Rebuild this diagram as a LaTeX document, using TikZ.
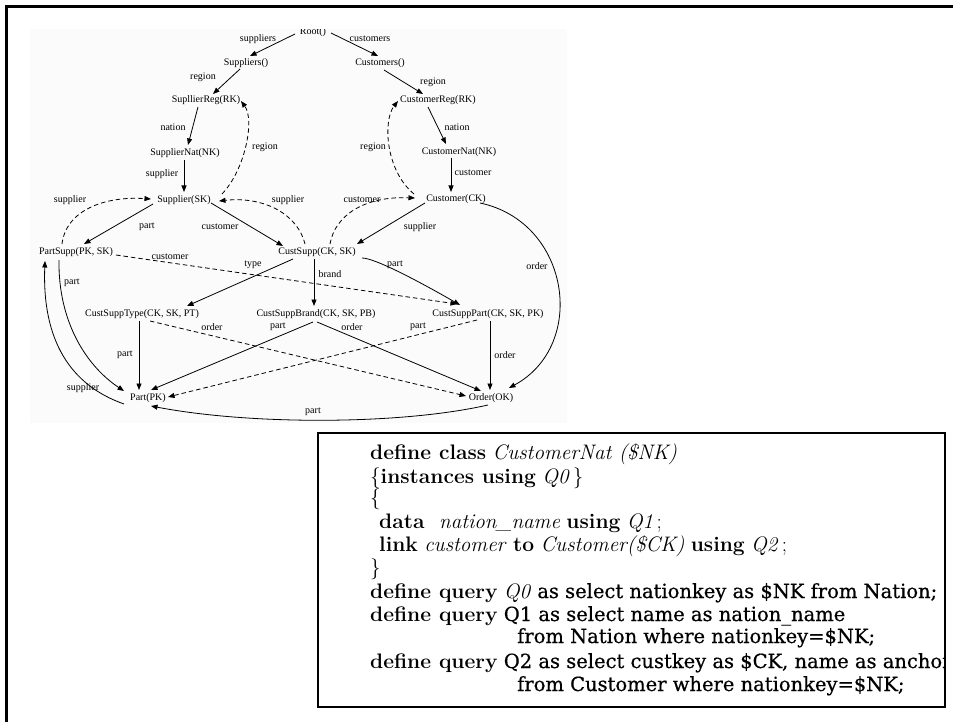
\documentclass[tikz,border=0pt]{standalone}
\usepackage{fontspec}
\newfontfamily\gfont{Liberation Serif}
\newfontfamily\sqlf{DejaVu Serif}[FakeBold=0.6]
\newcommand\sqltxt[1]{{\sqlf\fontsize{19.5}{23}\selectfont #1}}
\usetikzlibrary{arrows.meta,calc}
\begin{document}
\begin{tikzpicture}[x=1pt,y=-1pt,
  gn/.style={font={\gfont\fontsize{10}{12}\selectfont}, inner sep=0.5pt},
  gl/.style={font={\gfont\fontsize{10}{12}\selectfont}, inner sep=0pt},
  arr/.style={line width=0.8pt, -{Stealth[length=6.5pt,width=5pt,inset=0pt]}},
  dsh/.style={arr, dash pattern=on 4.5pt off 3pt},
  bx/.style={font=\fontsize{21}{23}\selectfont, anchor=base west, inner sep=0pt},
]
\useasboundingbox (0,0) rectangle (953,722);
% graph background
\fill[gray!3] (30,29) rectangle (567,423);
\begin{scope}
  \clip (30,30) rectangle (567,423);
  \node[gn] (root) at (313,32) {Root()};
\end{scope}
% nodes
\node[gn] (sups)    at (246,63)  {Suppliers()};
\node[gn] (custs)   at (380,63)  {Customers()};
\node[gn] (sreg)    at (206,100) {SupllierReg(RK)};
\node[gn] (creg)    at (438,100) {CustomerReg(RK)};
\node[gn] (snat)    at (185,153) {SupplierNat(NK)};
\node[gn] (cnat)    at (459,152) {CustomerNat(NK)};
\node[gn] (supp)    at (184,200) {Supplier(SK)};
\node[gn] (cust)    at (456,199) {Customer(CK)};
\node[gn] (psupp)   at (76,252)  {PartSupp(PK, SK)};
\node[gn] (csupp)   at (317,252) {CustSupp(CK, SK)};
\node[gn] (cstype)  at (142,314) {CustSuppType(CK, SK, PT)};
\node[gn] (csbrand) at (316,314) {CustSuppBrand(CK, SK, PB)};
\node[gn] (cspart)  at (488,314) {CustSuppPart(CK, SK, PK)};
\node[gn] (part)    at (148,398) {Part(PK)};
\node[gn] (order)   at (491,398) {Order(OK)};
% solid edges
\draw[arr] ($(root)+(-18,2)$) -- ($(sups)+(4,-7)$);
\draw[arr] ($(root)+(18,1)$) -- ($(custs)+(-2,-7)$);
\draw[arr] ($(sups)+(-6,6)$) -- ($(sreg)+(7,-6)$);
\draw[arr] ($(custs)+(4,7)$) -- ($(creg)+(-15,-6)$);
\draw[arr] ($(sreg)+(-8,7)$) -- ($(snat)+(3,-8)$);
\draw[arr] ($(creg)+(-10,7)$) -- ($(cnat)+(-13,-8)$);
\draw[arr] ($(snat)+(-1,7)$) -- ($(supp)+(0,-8)$);
\draw[arr] ($(cnat)+(-8,6)$) -- ($(cust)+(-5,-7)$);
\draw[arr] ($(supp)+(-31,4)$) -- ($(psupp)+(8,-8)$);
\draw[arr] ($(supp)+(27,3)$) -- ($(csupp)+(-34,-6)$);
\draw[arr] ($(cust)+(-31,4)$) -- ($(csupp)+(40,-8)$);
\draw[arr] ($(cust)+(24,4)$) .. controls (570,222) and (588,345) .. ($(order)+(18,-10)$);
\draw[arr] ($(csupp)+(-24,7)$) -- ($(cstype)+(45,-8)$);
\draw[arr] ($(csupp)+(-3,7)$) -- ($(csbrand)+(-2,-8)$);
\draw[arr] ($(csupp)+(45,6)$) .. controls (375,258) and (420,282) .. ($(cspart)+(-28,-9)$);
\draw[arr] ($(cstype)+(-3,7)$) -- ($(part)+(-9,-8)$);
\draw[arr] ($(csbrand)+(-3,8)$) -- ($(part)+(3,-8)$);
\draw[arr] ($(csbrand)+(1,8)$) -- ($(order)+(-10,-7)$);
\draw[arr] ($(cspart)+(2,7)$) -- ($(order)+(-1,-8)$);
\draw[arr] ($(psupp)+(-17,8)$) .. controls (58,320) and (85,365) .. ($(part)+(-24,-7)$);
\draw[arr] ($(part)+(-24,6)$) .. controls (70,385) and (42,340) .. ($(psupp)+(-31,9)$);
\draw[arr] ($(order)+(-3,7)$) .. controls (400,425) and (250,425) .. ($(part)+(3,8)$);
% dashed edges
\draw[dsh] ($(supp)+(38,-6)$) .. controls (245,170) and (255,120) .. ($(sreg)+(35,1)$);
\draw[dsh] ($(csupp)+(-12,-8)$) .. controls (298,215) and (265,196) .. ($(supp)+(35,1)$);
\draw[dsh] ($(csupp)+(13,-8)$) .. controls (335,215) and (365,196) .. ($(cust)+(-41,-1)$);
\draw[dsh] ($(cust)+(-42,-5)$) .. controls (385,170) and (383,120) .. ($(creg)+(-40,1)$);
\draw[dsh] ($(psupp)+(-14,-8)$) .. controls (66,210) and (105,196) .. ($(supp)+(-33,-1)$);
\draw[dsh] ($(psupp)+(40,3)$) -- ($(cspart)+(-31,-10)$);
\draw[dsh] ($(cstype)+(8,7)$) -- ($(order)+(-25,-2)$);
\draw[dsh] ($(cspart)+(-11,6)$) -- ($(part)+(20,-1)$);
% edge labels
\node[gl] (l1)  at (258,39)  {suppliers};
\node[gl] (l2)  at (370,39)  {customers};
\node[gl] (l3)  at (203,77)  {region};
\node[gl] (l4)  at (433,82)  {region};
\node[gl] (l5)  at (173,127) {nation};
\node[gl] (l6)  at (457,127) {nation};
\node[gl] (l7)  at (265,147) {region};
\node[gl] (l8)  at (373,147) {region};
\node[gl] (l9)  at (162,174) {supplier};
\node[gl] (l10) at (473,173) {customer};
\node[gl] (l11) at (70,200)  {supplier};
\node[gl] (l12) at (288,200) {supplier};
\node[gl] (l13) at (362,200) {customer};
\node[gl] (l14) at (147,227) {part};
\node[gl] (l15) at (220,227) {customer};
\node[gl] (l16) at (420,227) {supplier};
\node[gl] (l17) at (170,257) {customer};
\node[gl] (l18) at (537,266) {order};
\node[gl] (l19) at (253,265) {type};
\node[gl] (l20) at (395,265) {part};
\node[gl] (l21) at (330,274) {brand};
\node[gl] (l22) at (72,283)  {part};
\node[gl] (l23) at (212,327) {order};
\node[gl] (l24) at (278,327) {part};
\node[gl] (l25) at (352,327) {order};
\node[gl] (l26) at (418,327) {part};
\node[gl] (l27) at (125,355) {part};
\node[gl] (l28) at (505,355) {order};
\node[gl] (l29) at (83,388)  {supplier};
\node[gl] (l30) at (313,412) {part};
% code box
\begin{scope}
  \clip (318,433) rectangle (945,707);
  \node[bx] (t1)  at (370,459) {\textbf{define class} \textit{CustomerNat (\$NK)}};
  \node[bx] (t2)  at (370,483) {\{\textbf{instances using} \textit{Q0}\,\}};
  \node[bx] (t3)  at (370,504) {\{};
  \node[bx] (t4)  at (379,528) {\textbf{data}\hspace{0.7em}\textit{nation\_name} \textbf{using} \textit{Q1}\,;};
  \node[bx] (t5)  at (379,551) {\textbf{link} \textit{customer} \textbf{to} \textit{Customer(\$CK)} \textbf{using} \textit{Q2}\,;};
  \node[bx] (t6)  at (370,574) {\}};
  \node[bx] (t7)  at (370,598) {\textbf{define query} \textit{Q0} \sqltxt{as select nationkey as \$NK from Nation;}};
  \node[bx] (t8)  at (370,621) {\textbf{define query} \sqltxt{Q1 as select name as nation\_name}};
  \node[bx] (t9)  at (517,643) {\sqltxt{from Nation where nationkey=\$NK;}};
  \node[bx] (t10) at (370,668) {\textbf{define query} \sqltxt{Q2 as select custkey as \$CK, name as anchor}};
  \node[bx] (t11) at (517,691) {\sqltxt{from Customer where nationkey=\$NK;}};
\end{scope}
\draw[line width=2.5pt] (318,433) rectangle (945,707);
% outer frame
\draw[line width=3.5pt, line join=miter] (6.5,722) -- (6.5,6.5) -- (953,6.5);
\end{tikzpicture}
\end{document}
